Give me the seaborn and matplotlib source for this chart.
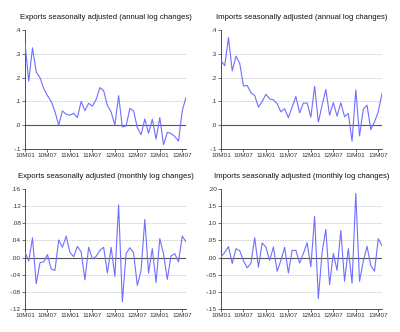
import numpy as np
import pandas as pd
import matplotlib
matplotlib.use("Agg")
import matplotlib.pyplot as plt
import seaborn as sns

months = ["10M01","10M02","10M03","10M04","10M05","10M06","10M07","10M08","10M09","10M10","10M11","10M12",
          "11M01","11M02","11M03","11M04","11M05","11M06","11M07","11M08","11M09","11M10","11M11","11M12",
          "12M01","12M02","12M03","12M04","12M05","12M06","12M07","12M08","12M09","12M10","12M11","12M12",
          "13M01","13M02","13M03","13M04","13M05","13M06","13M07","13M08"]

exports_annual = [0.344,0.185,0.325,0.224,0.200,0.154,0.124,0.100,0.057,0.000,0.060,0.046,
                  0.042,0.050,0.032,0.100,0.061,0.092,0.080,0.108,0.158,0.145,0.083,0.056,
                  0.000,0.124,-0.007,-0.003,0.070,0.060,-0.010,-0.040,0.026,-0.034,0.025,-0.058,
                  0.032,-0.082,-0.030,-0.035,-0.047,-0.067,0.061,0.117]
imports_annual = [0.272,0.250,0.368,0.228,0.290,0.260,0.165,0.167,0.136,0.125,0.076,0.100,
                  0.130,0.110,0.107,0.090,0.056,0.069,0.032,0.077,0.120,0.052,0.093,0.093,
                  0.034,0.163,0.013,0.084,0.150,0.042,0.095,0.038,0.094,0.036,0.049,-0.067,
                  0.148,-0.045,0.067,0.084,-0.018,0.014,0.056,0.134]
exports_monthly = [0.0125,-0.008,0.046,-0.061,-0.012,-0.010,0.007,-0.027,-0.030,0.041,0.024,0.050,
                   0.012,0.002,0.026,0.013,-0.052,0.024,-0.003,0.003,0.017,0.024,-0.036,0.024,
                   -0.044,0.123,-0.103,0.009,0.023,0.011,-0.065,-0.030,0.089,-0.036,0.021,-0.058,
                   0.044,0.009,-0.051,0.004,0.009,-0.010,0.050,0.037]
imports_monthly = [0.002,0.015,0.032,-0.017,0.026,0.020,-0.009,-0.030,-0.016,0.058,-0.028,0.043,
                   0.030,-0.008,0.031,-0.040,-0.008,0.030,-0.045,0.021,0.021,-0.016,0.012,0.043,
                   -0.027,0.120,-0.120,0.016,0.082,-0.079,0.012,-0.037,0.079,-0.069,0.026,-0.075,
                   0.187,-0.069,-0.011,0.033,-0.023,-0.040,0.055,0.035]

titles = ["Exports seasonally adjusted (annual log changes)",
          "Imports seasonally adjusted (annual log changes)",
          "Exports seasonally adjusted (monthly log changes)",
          "Imports seasonally adjusted (monthly log changes)"]
series = [exports_annual, imports_annual, exports_monthly, imports_monthly]
yticks_list = [[-0.1,0.0,0.1,0.2,0.3,0.4],
               [-0.1,0.0,0.1,0.2,0.3,0.4],
               [-0.12,-0.08,-0.04,0.0,0.04,0.08,0.12,0.16],
               [-0.15,-0.10,-0.05,0.0,0.05,0.10,0.15,0.20]]
ytick_labels = [["-.1",".0",".1",".2",".3",".4"],
                ["-.1",".0",".1",".2",".3",".4"],
                ["-.12","-.08","-.04",".00",".04",".08",".12",".16"],
                ["-.15","-.10","-.05",".00",".05",".10",".15",".20"]]
xtick_labels = ["10M01","10M07","11M01","11M07","12M01","12M07","13M01","13M07"]

sns.set_style("white")
plt.rcParams['font.family'] = ['Liberation Sans', 'DejaVu Sans']

fig = plt.figure(figsize=(4.0, 3.32), dpi=100)
W, H = 400, 332
boxes = [(25, 30, 161, 119), (221, 30, 161, 119), (25, 189, 161, 120), (221, 189, 161, 120)]

for i in range(4):
    x0, y0, w, h = boxes[i]
    ax = fig.add_axes([x0 / W, 1 - (y0 + h) / H, w / W, h / H])
    df = pd.DataFrame({"t": np.arange(len(months)), "v": series[i]})
    yt = yticks_list[i]
    for v in yt[1:-1]:
        if abs(v) < 1e-12:
            ax.axhline(v, color="#555555", lw=0.8, zorder=1)
        else:
            ax.axhline(v, color="#bbbbbb", lw=0.6, ls=(0, (1, 1)), zorder=1)
    sns.lineplot(data=df, x="t", y="v", ax=ax, color="#6f6fff", lw=0.8, zorder=3)
    ax.set_xlim(0, len(months) - 1)
    ax.set_ylim(yt[0], yt[-1])
    ax.set_yticks(yt)
    ax.set_yticklabels(ytick_labels[i])
    xt = [months.index(m) for m in xtick_labels]
    ax.set_xticks(xt)
    ax.set_xticklabels(xtick_labels)
    ax.set_xlabel("")
    ax.set_ylabel("")
    for s in ["top", "right"]:
        ax.spines[s].set_visible(False)
    for s in ["left", "bottom"]:
        ax.spines[s].set_color("#333333")
        ax.spines[s].set_linewidth(0.6)
    ax.tick_params(axis="both", labelsize=4.6, length=2, width=0.5, pad=1,
                   colors="#333333", left=True, bottom=True)
    ax.set_title(titles[i], fontsize=5.6, pad=8, color="#111111")

fig.savefig("out.png", dpi=100)
